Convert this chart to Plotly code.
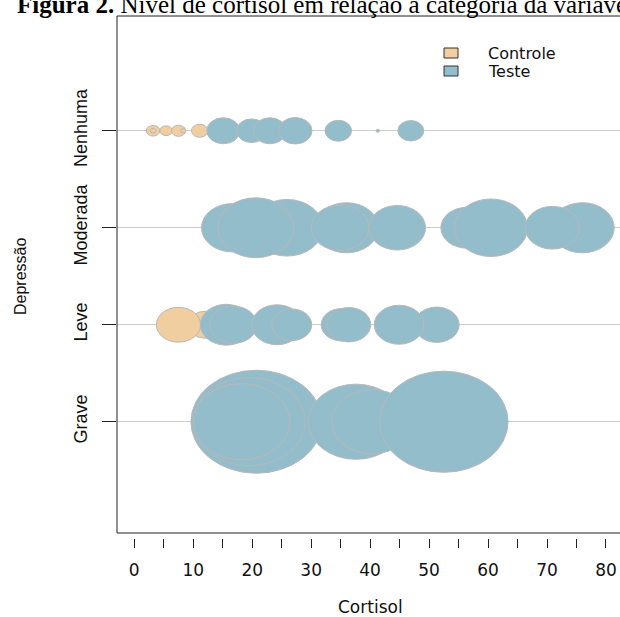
import plotly.graph_objects as go

# ---------------- data ----------------
categorias = ["Grave", "Leve", "Moderada", "Nenhuma"]
grupos = ["Controle", "Teste"]

controle_cat = ["Nenhuma", "Nenhuma", "Nenhuma", "Nenhuma", "Nenhuma", "Nenhuma", "Leve", "Leve"]
controle_cortisol = [3.2, 3.2, 5.4, 7.5, 8.3, 11.1, 12.0, 7.5]
controle_raio = [1.15, 0.5, 1.05, 1.2, 0.45, 1.4, 2.9, 3.75]

teste_cat = ["Nenhuma", "Nenhuma", "Nenhuma", "Nenhuma", "Nenhuma", "Nenhuma", "Nenhuma",
             "Moderada", "Moderada", "Moderada", "Moderada", "Moderada", "Moderada",
             "Moderada", "Moderada", "Moderada", "Moderada",
             "Leve", "Leve", "Leve", "Leve", "Leve", "Leve", "Leve", "Leve",
             "Grave", "Grave", "Grave", "Grave", "Grave", "Grave"]
teste_cortisol = [15.1, 19.9, 23.0, 27.3, 34.6, 41.3, 46.9,
                  16.6, 25.9, 20.6, 36.0, 34.9, 44.6, 56.4, 60.5, 76.0, 70.9,
                  15.6, 16.8, 24.2, 26.7, 35.2, 36.4, 51.3, 44.9,
                  20.7, 19.5, 18.2, 37.6, 40.4, 52.5]
teste_raio = [2.8, 2.55, 2.8, 2.85, 2.25, 0.3, 2.2,
              5.2, 6.1, 6.45, 5.4, 4.9, 4.8, 4.4, 6.2, 5.4, 4.6,
              4.4, 4.0, 4.3, 3.4, 3.5, 3.7, 3.8, 4.2,
              11.1, 9.5, 8.2, 8.1, 6.9, 10.9]

x_titulo = "Cortisol"
y_titulo = "Depressão"
titulo = "<b>Figura 2.</b> Nível de cortisol em relação à categoria da variável depressão"

# ---------------- styling / geometry ----------------
COR_CTRL = "#F1CE9F"
COR_TESTE = "#94BDCC"
COR_BORDA = "#B8B8B8"
W, H = 620, 617
ML, MR, MT, MB = 117, 0, 16, 79
PLOT_W = W - ML - MR
PLOT_H = H - MT - MB
GAP = 5  # px between box bottom and the x ticks
X_MIN, X_MAX = -2.93, 82.38
Y_MIN, Y_MAX = -0.147, 5.183
ASPECT = 1.27  # horizontal stretch of the symbols in the reference

xpx = PLOT_W / (X_MAX - X_MIN)
ypx = (PLOT_H - GAP) / (Y_MAX - Y_MIN)
pos = {c: i + 1 for i, c in enumerate(categorias)}


def px_x(p):
    return (p - ML) / PLOT_W


def px_y(p):
    return (H - MB - p) / PLOT_H


fig = go.Figure()
# invisible traces so that the groups exist as series
for nome, cor in zip(grupos, [COR_CTRL, COR_TESTE]):
    fig.add_trace(go.Scatter(x=[None], y=[None], mode="markers", name=nome,
                             marker=dict(symbol="square", color=cor), showlegend=False))

shapes = [dict(type="rect", xref="paper", yref="paper", x0=0, x1=1.05,
               y0=GAP / PLOT_H, y1=1, line=dict(color="#222222", width=1), layer="above")]


def add_bolhas(cats, xs, rs, cor):
    for c, x, r in zip(cats, xs, rs):
        y = pos[c]
        ry = r * xpx / ypx / ASPECT
        shapes.append(dict(type="circle", xref="x", yref="y",
                           x0=x - r, x1=x + r, y0=y - ry, y1=y + ry,
                           fillcolor=cor, line=dict(color=COR_BORDA, width=1), layer="above"))


add_bolhas(controle_cat, controle_cortisol, controle_raio, COR_CTRL)
add_bolhas(teste_cat, teste_cortisol, teste_raio, COR_TESTE)

annotations = [
    dict(text=titulo, xref="paper", yref="paper", x=px_x(15), y=1, yshift=-4,
         xanchor="left", yanchor="bottom", showarrow=False,
         font=dict(family="Liberation Serif", size=25, color="black")),
    dict(text=x_titulo, xref="paper", yref="paper", x=px_x(370), y=px_y(607),
         xanchor="center", yanchor="middle", showarrow=False,
         font=dict(family="DejaVu Sans", size=17, color="#111111")),
    dict(text=y_titulo, xref="paper", yref="paper", x=px_x(20), y=px_y(277),
         xanchor="center", yanchor="middle", showarrow=False, textangle=-90,
         font=dict(family="Liberation Sans", size=16, color="#111111")),
]

# legend (drawn box + label, like the base-R legend)
for i, (nome, cor) in enumerate(zip(grupos, [COR_CTRL, COR_TESTE])):
    cy = 53 + 18 * i
    shapes.append(dict(type="rect", xref="paper", yref="paper",
                       x0=px_x(444), x1=px_x(458), y0=px_y(cy + 5), y1=px_y(cy - 5),
                       fillcolor=cor, line=dict(color="#333333", width=1), layer="above"))
    annotations.append(dict(text=nome, xref="paper", yref="paper", x=px_x(486), y=px_y(cy),
                            xanchor="left", yanchor="middle", showarrow=False,
                            font=dict(family="DejaVu Sans", size=16, color="#111111")))

fig.update_layout(
    width=W, height=H,
    margin=dict(l=ML, r=MR, t=MT, b=MB, pad=0),
    plot_bgcolor="white", paper_bgcolor="white",
    shapes=shapes,
    annotations=annotations,
    showlegend=False,
    xaxis=dict(range=[X_MIN, X_MAX], anchor="free", position=0,
               showgrid=False, zeroline=False, showline=False,
               tickmode="linear", tick0=0, dtick=10,
               ticks="outside", ticklen=9, tickcolor="#222222", tickwidth=1,
               ticklabelstandoff=8,
               tickfont=dict(family="DejaVu Sans", size=17, color="#111111"),
               minor=dict(ticks="outside", tick0=0, dtick=5, ticklen=9,
                          tickcolor="#222222", tickwidth=1, showgrid=False)),
    yaxis=dict(range=[Y_MIN, Y_MAX], domain=[GAP / PLOT_H, 1],
               tickvals=[pos[c] for c in categorias], ticktext=categorias,
               tickangle=-90, ticks="outside", ticklen=14, tickcolor="#222222",
               showgrid=True, gridcolor="#CDCDCD", gridwidth=1,
               zeroline=False, showline=False, ticklabelstandoff=8,
               tickfont=dict(family="Liberation Sans", size=18, color="#111111")),
)

fig.write_html("out.html", config={"displayModeBar": False},
               post_script="document.body.style.margin='0px';")
